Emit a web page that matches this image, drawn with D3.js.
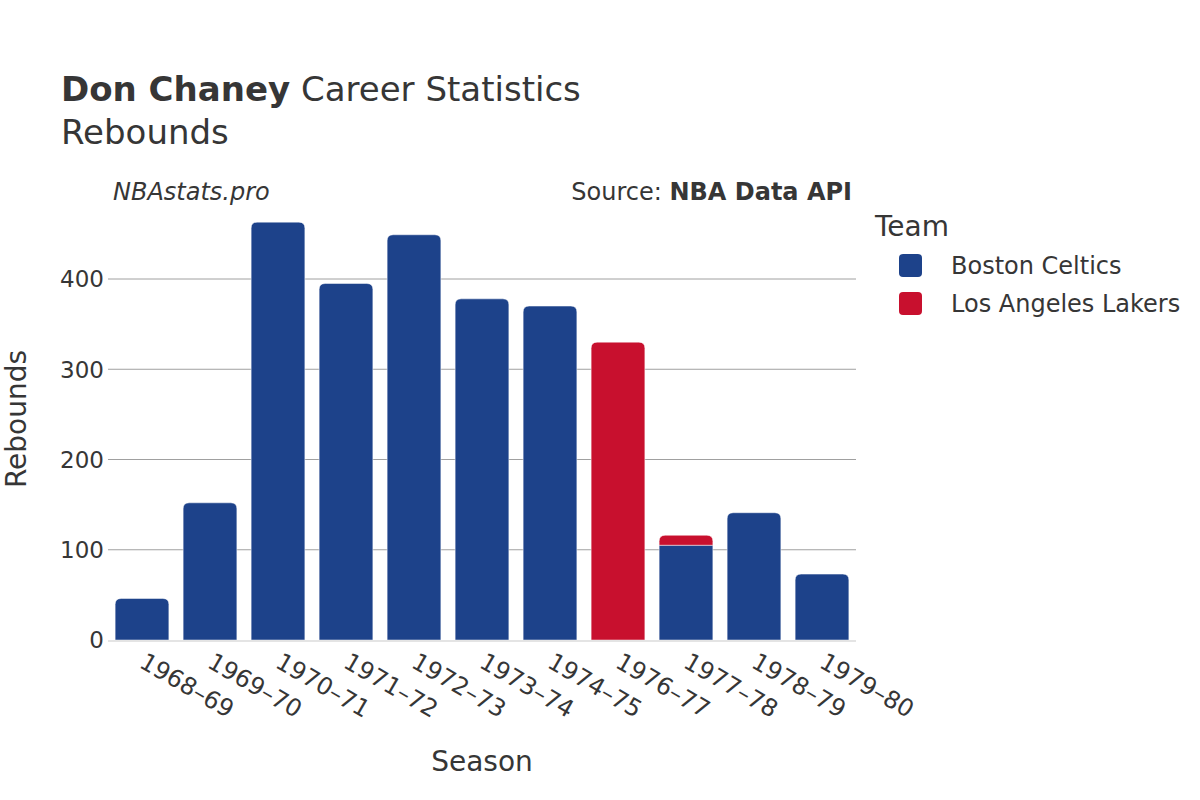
<!DOCTYPE html>
<html><head><meta charset="utf-8">
<script src="https://cdn.jsdelivr.net/npm/d3@7"></script>
<style>body{margin:0;background:#fff}text{font-family:"DejaVu Sans",sans-serif;fill:#363636}</style>
</head><body><svg id="c" width="1200" height="800"></svg>
<script>
const seasons = ["1968–69","1969–70","1970–71","1971–72","1972–73","1973–74","1974–75","1976–77","1977–78","1978–79","1979–80"];
const celtics = [46,152,463,395,449,378,370,0,105,141,73];
const lakers  = [0,0,0,0,0,0,0,330,11,0,0];
const teams = ["Boston Celtics","Los Angeles Lakers"];
const colors = ["#1d428a","#c8102e"];
const yTicks = [0,100,200,300,400];

const svg = d3.select("#c");
const x = d3.scaleBand().domain(seasons).range([108,856]).paddingInner(0.21).paddingOuter(0.105);
const y = d3.scaleLinear().domain([0,400]).range([640,279]);

// gridlines
svg.append("g").selectAll("line").data(yTicks.filter(d=>d>0)).join("line")
  .attr("x1",108).attr("x2",856).attr("y1",d=>y(d)).attr("y2",d=>y(d))
  .attr("stroke","#a0a0a0").attr("stroke-width",1);

function barPath(x0,w,yb,yt,r){
  r=Math.min(r,(yb-yt),w/2);
  if(r<=0) return `M${x0},${yb}V${yt}H${x0+w}V${yb}Z`;
  return `M${x0},${yb}V${yt+r}Q${x0},${yt} ${x0+r},${yt}H${x0+w-r}Q${x0+w},${yt} ${x0+w},${yt+r}V${yb}Z`;
}
const rows = seasons.map((s,i)=>({s,c:celtics[i],l:lakers[i]}));
const g = svg.append("g");
rows.forEach(d=>{
  const x0=x(d.s), w=x.bandwidth();
  let base=0;
  const segs=[[d.c,colors[0]],[d.l,colors[1]]].filter(e=>e[0]>0);
  segs.forEach((e,k)=>{
    const top = k===segs.length-1;
    g.append("path").attr("d",barPath(x0,w,y(base),y(base+e[0]),top?6:0))
      .attr("fill",e[1]).attr("stroke","#ffffff").attr("stroke-opacity",0.6).attr("stroke-width",0.8);
    base+=e[0];
  });
});

// zero line
svg.append("line").attr("x1",108).attr("x2",856).attr("y1",y(0)+1).attr("y2",y(0)+1)
  .attr("stroke","#e4e4e4").attr("stroke-width",2);

// y tick labels
svg.append("g").selectAll("text").data(yTicks).join("text")
  .attr("x",104).attr("y",d=>y(d)).attr("dy","0.36em").attr("text-anchor","end")
  .attr("font-size",23).text(d=>d);

// x tick labels
svg.append("g").selectAll("text").data(seasons).join("text")
  .attr("transform",d=>`translate(${x(d)+x.bandwidth()/2+5},${651}) rotate(30)`)
  .attr("dy","0.75em").attr("text-anchor","start").attr("font-size",24).text(d=>d);

// axis titles
svg.append("text").attr("x",482).attr("y",771).attr("text-anchor","middle").attr("font-size",28).text("Season");
svg.append("text").attr("transform","translate(26,419) rotate(-90)").attr("text-anchor","middle").attr("font-size",28).text("Rebounds");

// title
const t = svg.append("text").attr("x",61).attr("y",101).attr("font-size",34);
t.append("tspan").attr("font-weight","bold").text("Don Chaney");
t.append("tspan").text(" Career Statistics");
svg.append("text").attr("x",61).attr("y",144).attr("font-size",34).text("Rebounds");

svg.append("text").attr("x",113).attr("y",200).attr("font-size",24).attr("font-style","italic").text("NBAstats.pro");
const s = svg.append("text").attr("x",852).attr("y",200).attr("font-size",24).attr("text-anchor","end");
s.append("tspan").text("Source: ");
s.append("tspan").attr("font-weight","bold").text("NBA Data API");

// legend
svg.append("text").attr("x",875).attr("y",236).attr("font-size",28).text("Team");
const lg = svg.append("g").selectAll("g").data(teams).join("g")
  .attr("transform",(d,i)=>`translate(899,${254+i*38})`);
lg.append("rect").attr("width",23).attr("height",23).attr("rx",4).attr("fill",(d,i)=>colors[i]);
lg.append("text").attr("x",52).attr("y",20).attr("font-size",24).text(d=>d);
</script></body></html>
